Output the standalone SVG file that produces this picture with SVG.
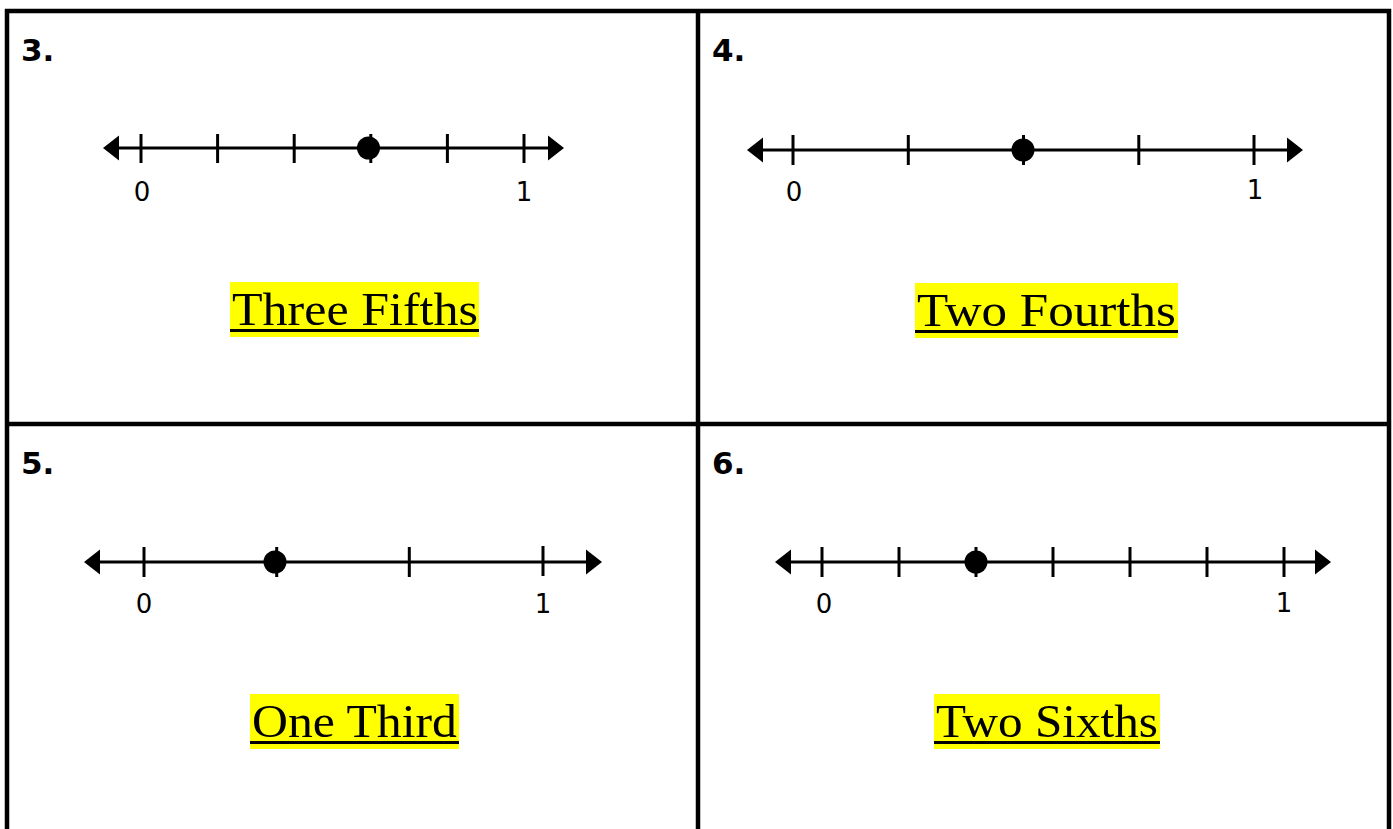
<svg xmlns="http://www.w3.org/2000/svg" width="1393" height="829" viewBox="0 0 1393 829">
<style>
.frame{stroke:#000;stroke-width:4.5;fill:none}
.ln{stroke:#000;stroke-width:3;fill:none}
.tk{stroke:#000;stroke-width:3}
.ah{fill:#000}
.dot{fill:#000}
.num{font-family:"DejaVu Sans",sans-serif;font-weight:bold;font-size:31px;fill:#000}
.lab{font-family:"DejaVu Sans",sans-serif;font-size:26px;fill:#000;text-anchor:middle}
.hl{fill:#ffff00}
.ttl{font-family:"Liberation Serif","DejaVu Serif",serif;font-size:47px;fill:#000}
.ul{stroke:#000;stroke-width:3}
</style>
<rect width="1393" height="829" fill="#fff"/>
<g id="frame">
<path class="frame" d="M7,831 V11 H1389 V831"/>
<line class="frame" x1="698" y1="11" x2="698" y2="831"/>
<line class="frame" x1="7" y1="424" x2="1389" y2="424"/>
</g>
<g id="panel3">
<text class="num" x="21" y="61">3.</text>
<line class="ln" x1="115" y1="148" x2="552" y2="148"/>
<polygon class="ah" points="103,148 119,135.5 119,160.5"/>
<polygon class="ah" points="564,148 548,135.5 548,160.5"/>
<g class="tk">
<line x1="141" y1="134" x2="141" y2="163"/>
<line x1="217.6" y1="134" x2="217.6" y2="163"/>
<line x1="294.2" y1="134" x2="294.2" y2="163"/>
<line x1="370.8" y1="134" x2="370.8" y2="163"/>
<line x1="447.4" y1="134" x2="447.4" y2="163"/>
<line x1="524" y1="134" x2="524" y2="163"/>
</g>
<circle class="dot" cx="368.5" cy="148" r="11.5"/>
<text class="lab" x="142" y="201">0</text>
<text class="lab" x="524" y="201">1</text>
<rect class="hl" x="230" y="282" width="249" height="55"/>
<text class="ttl" x="232" y="325" textLength="246" lengthAdjust="spacingAndGlyphs">Three Fifths</text>
<line class="ul" x1="230" y1="330.5" x2="479" y2="330.5"/>
</g>
<g id="panel4">
<text class="num" x="712" y="61">4.</text>
<line class="ln" x1="758" y1="150" x2="1292" y2="150"/>
<polygon class="ah" points="747,150 763,137.5 763,162.5"/>
<polygon class="ah" points="1303,150 1287,137.5 1287,162.5"/>
<g class="tk">
<line x1="793" y1="135" x2="793" y2="165"/>
<line x1="908.3" y1="135" x2="908.3" y2="165"/>
<line x1="1023.5" y1="135" x2="1023.5" y2="165"/>
<line x1="1138.8" y1="135" x2="1138.8" y2="165"/>
<line x1="1254" y1="135" x2="1254" y2="165"/>
</g>
<circle class="dot" cx="1023" cy="150" r="11.5"/>
<text class="lab" x="794" y="201">0</text>
<text class="lab" x="1255" y="199">1</text>
<rect class="hl" x="915" y="283" width="263" height="55"/>
<text class="ttl" x="917" y="326" textLength="259" lengthAdjust="spacingAndGlyphs">Two Fourths</text>
<line class="ul" x1="915" y1="331.5" x2="1178" y2="331.5"/>
</g>
<g id="panel5">
<text class="num" x="21" y="474">5.</text>
<line class="ln" x1="96" y1="562" x2="590" y2="562"/>
<polygon class="ah" points="84,562 100,549.5 100,574.5"/>
<polygon class="ah" points="602,562 586,549.5 586,574.5"/>
<g class="tk">
<line x1="144" y1="547" x2="144" y2="577"/>
<line x1="276.7" y1="547" x2="276.7" y2="577"/>
<line x1="409.3" y1="547" x2="409.3" y2="577"/>
<line x1="543" y1="546" x2="543" y2="576"/>
</g>
<circle class="dot" cx="275" cy="562" r="11.5"/>
<text class="lab" x="144" y="613">0</text>
<text class="lab" x="543" y="613">1</text>
<rect class="hl" x="250" y="694" width="209" height="55"/>
<text class="ttl" x="252" y="737" textLength="205" lengthAdjust="spacingAndGlyphs">One Third</text>
<line class="ul" x1="250" y1="742.5" x2="459" y2="742.5"/>
</g>
<g id="panel6">
<text class="num" x="712" y="474">6.</text>
<line class="ln" x1="786" y1="562" x2="1320" y2="562"/>
<polygon class="ah" points="775,562 791,549.5 791,574.5"/>
<polygon class="ah" points="1331,562 1315,549.5 1315,574.5"/>
<g class="tk">
<line x1="822" y1="547" x2="822" y2="577"/>
<line x1="899" y1="547" x2="899" y2="577"/>
<line x1="976" y1="547" x2="976" y2="577"/>
<line x1="1053" y1="547" x2="1053" y2="577"/>
<line x1="1130" y1="547" x2="1130" y2="577"/>
<line x1="1207" y1="547" x2="1207" y2="577"/>
<line x1="1284" y1="547" x2="1284" y2="577"/>
</g>
<circle class="dot" cx="976" cy="562" r="11.5"/>
<text class="lab" x="824" y="613">0</text>
<text class="lab" x="1284" y="612">1</text>
<rect class="hl" x="934" y="694" width="226" height="55"/>
<text class="ttl" x="936" y="737" textLength="222" lengthAdjust="spacingAndGlyphs">Two Sixths</text>
<line class="ul" x1="934" y1="742.5" x2="1160" y2="742.5"/>
</g>
</svg>
